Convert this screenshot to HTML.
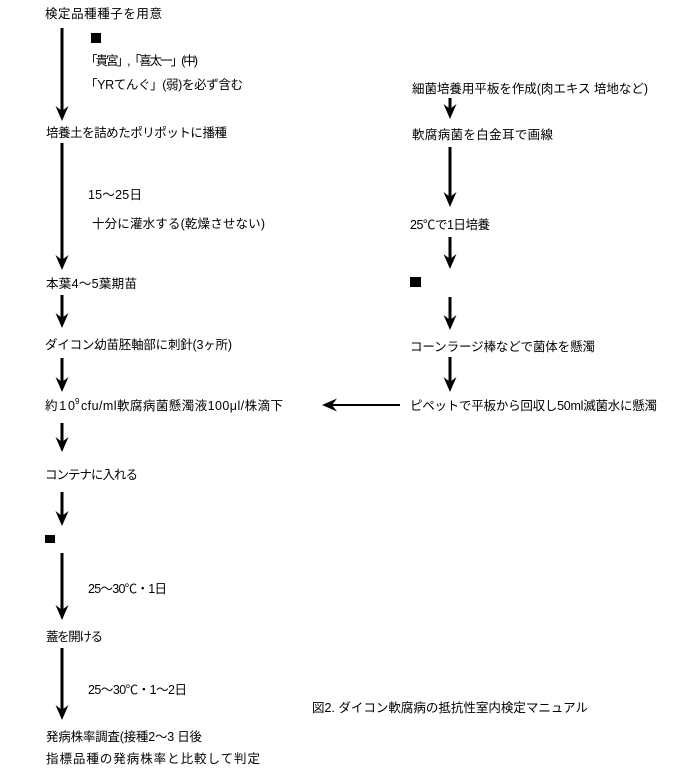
<!DOCTYPE html>
<html><head><meta charset="utf-8"><style>
html,body{margin:0;padding:0;background:#fff;}
svg{display:block;}
text{font-family:"Liberation Sans","Noto Sans CJK JP",sans-serif;font-size:12.5px;fill:#000;}
</style></head><body>
<svg width="691" height="768" viewBox="0 0 691 768" xmlns="http://www.w3.org/2000/svg">
<defs>
<g id="ah"><polygon points="0,0 -6.5,-15 0,-10 6.5,-15" fill="#000"/></g>
</defs>
<!-- left column texts -->
<text x="45" y="18" textLength="117" lengthAdjust="spacing">検定品種種子を用意</text>
<rect x="91" y="33" width="10" height="10" fill="#000"/>
<text x="85" y="65" textLength="113" lengthAdjust="spacing">「貴宮」,「喜太一」(中)</text>
<text x="85" y="89" textLength="158" lengthAdjust="spacing">「YRてんぐ」(弱)を必ず含む</text>
<text x="46" y="137" textLength="181" lengthAdjust="spacing">培養土を詰めたポリポットに播種</text>
<text x="88" y="199" textLength="54" lengthAdjust="spacing">15～25日</text>
<text x="92" y="228" textLength="173" lengthAdjust="spacing">十分に灌水する(乾燥させない)</text>
<text x="46" y="288" textLength="91" lengthAdjust="spacing">本葉4～5葉期苗</text>
<text x="45" y="349" textLength="187" lengthAdjust="spacing">ダイコン幼苗胚軸部に刺針(3ヶ所)</text>
<text x="45" y="410" textLength="30" lengthAdjust="spacing">約10</text>
<text x="75" y="404" style="font-size:8px">9</text>
<text x="81" y="410" textLength="202" lengthAdjust="spacing">cfu/ml軟腐病菌懸濁液100μl/株滴下</text>
<text x="45" y="479" textLength="93" lengthAdjust="spacing">コンテナに入れる</text>
<rect x="45" y="535" width="10" height="8" fill="#000"/>
<text x="88" y="593" textLength="79" lengthAdjust="spacing">25～30℃・1日</text>
<text x="46" y="641" textLength="57" lengthAdjust="spacing">蓋を開ける</text>
<text x="88" y="694" textLength="99" lengthAdjust="spacing">25～30℃・1～2日</text>
<text x="46" y="741" textLength="156" lengthAdjust="spacing">発病株率調査(接種2～3 日後</text>
<text x="46" y="763" textLength="214" lengthAdjust="spacing">指標品種の発病株率と比較して判定</text>

<!-- right column texts -->
<text x="412" y="93" textLength="236" lengthAdjust="spacing">細菌培養用平板を作成(肉エキス 培地など)</text>
<text x="412" y="139" textLength="141" lengthAdjust="spacing">軟腐病菌を白金耳で画線</text>
<text x="410" y="229" textLength="80" lengthAdjust="spacing">25℃で1日培養</text>
<rect x="410" y="277" width="11" height="10" fill="#000"/>
<text x="410" y="351" textLength="185" lengthAdjust="spacing">コーンラージ棒などで菌体を懸濁</text>
<text x="410" y="410" textLength="247" lengthAdjust="spacing">ピペットで平板から回収し50ml滅菌水に懸濁</text>
<text x="312" y="712" textLength="276" lengthAdjust="spacing">図2. ダイコン軟腐病の抵抗性室内検定マニュアル</text>

<!-- left arrows -->
<g stroke="#000" stroke-width="3">
<line x1="62" y1="28" x2="62" y2="112"/>
<line x1="62" y1="143" x2="62" y2="262"/>
<line x1="62" y1="295" x2="62" y2="320"/>
<line x1="62" y1="358" x2="62" y2="384"/>
<line x1="62" y1="423" x2="62" y2="444"/>
<line x1="62" y1="492" x2="62" y2="518"/>
<line x1="62" y1="553" x2="62" y2="612"/>
<line x1="62" y1="648" x2="62" y2="712"/>
<!-- right arrows -->
<line x1="450" y1="98" x2="450" y2="111"/>
<line x1="450" y1="147" x2="450" y2="199"/>
<line x1="450" y1="237" x2="450" y2="261"/>
<line x1="450" y1="297" x2="450" y2="322"/>
<line x1="450" y1="357" x2="450" y2="384"/>
</g>
<use href="#ah" transform="translate(62,121)"/>
<use href="#ah" transform="translate(62,270)"/>
<use href="#ah" transform="translate(62,328)"/>
<use href="#ah" transform="translate(62,392)"/>
<use href="#ah" transform="translate(62,452)"/>
<use href="#ah" transform="translate(62,526)"/>
<use href="#ah" transform="translate(62,620)"/>
<use href="#ah" transform="translate(62,720)"/>
<use href="#ah" transform="translate(450,119)"/>
<use href="#ah" transform="translate(450,207)"/>
<use href="#ah" transform="translate(450,269)"/>
<use href="#ah" transform="translate(450,330)"/>
<use href="#ah" transform="translate(450,392)"/>
<!-- horizontal arrow -->
<line x1="400" y1="405" x2="330" y2="405" stroke="#000" stroke-width="2"/>
<use href="#ah" transform="translate(322,405) rotate(90)"/>
</svg>
</body></html>
